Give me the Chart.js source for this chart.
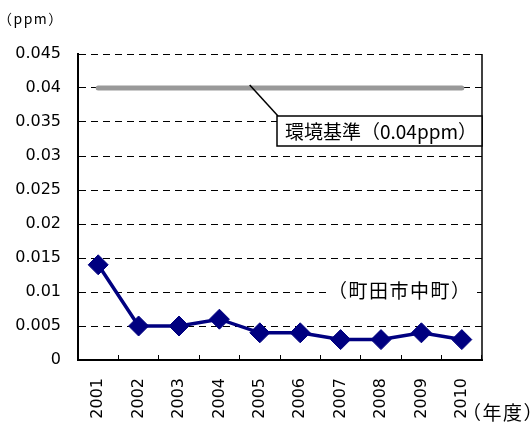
<!DOCTYPE html>
<html>
<head>
<meta charset="utf-8">
<script src="https://cdn.jsdelivr.net/npm/chart.js@4.4.8/dist/chart.umd.min.js"></script>
<style>
  html, body { margin: 0; padding: 0; background: #fff; }
  #wrap { width: 532px; height: 425px; }
</style>
</head>
<body>
<div id="wrap"><canvas id="no2Chart" width="532" height="425"></canvas></div>
<script>
const years = ["2001", "2002", "2003", "2004", "2005", "2006", "2007", "2008", "2009", "2010"];
const concentration = [0.014, 0.005, 0.005, 0.006, 0.004, 0.004, 0.003, 0.003, 0.004, 0.003];
const standardValue = 0.04;
const standardLine = years.map(() => standardValue);
const yTickLabels = ["0", "0.005", "0.01", "0.015", "0.02", "0.025", "0.03", "0.035", "0.04", "0.045"];

const numFont = "'DejaVu Sans', sans-serif";
const jpFont = "'Noto Sans CJK JP', sans-serif";

// 文字の横幅をそろえて描く（字間は少しだけ広げる）
function drawFitted(ctx, text, left, midY, width, font) {
  ctx.font = font;
  ctx.letterSpacing = "0px";
  const m = ctx.measureText(text);
  const ink = m.actualBoundingBoxLeft + m.actualBoundingBoxRight;
  const n = Array.from(text).length;
  let spacing = n > 1 ? (width - ink) / (n - 1) : 0;
  spacing = Math.min(1.5, Math.max(0, spacing));
  ctx.letterSpacing = spacing.toFixed(2) + "px";
  ctx.fillText(text, left + m.actualBoundingBoxLeft, midY);
  ctx.letterSpacing = "0px";
}

// 環境基準の吹き出しと単位などの文字
const notesPlugin = {
  id: "notes",
  afterDraw(chart) {
    const { ctx, chartArea, scales } = chart;
    const x = scales.x;
    const y = scales.y;
    ctx.save();

    // 枠の右辺
    ctx.strokeStyle = "#000";
    ctx.lineWidth = 1.5;
    ctx.beginPath();
    ctx.moveTo(chartArea.right, chartArea.top);
    ctx.lineTo(chartArea.right, chartArea.bottom);
    ctx.stroke();

    // 吹き出し
    const boxW = 205;
    const boxH = 30;
    const boxL = chartArea.right - boxW;
    const boxT = chartArea.top + 62;
    ctx.lineWidth = 1.5;
    ctx.beginPath();
    ctx.moveTo(x.getPixelForValue(3.75), y.getPixelForValue(standardValue) - 3);
    ctx.lineTo(boxL + 1, boxT);
    ctx.stroke();
    ctx.fillStyle = "#fff";
    ctx.fillRect(boxL, boxT, boxW, boxH);
    ctx.strokeRect(boxL, boxT, boxW, boxH);

    ctx.fillStyle = "#000";
    ctx.textBaseline = "middle";
    ctx.textAlign = "left";
    drawFitted(ctx, "環境基準（0.04ppm）", boxL + 8, boxT + boxH / 2 + 1, 177, "19px " + jpFont);

    // 測定局名（背景を白く抜く）
    ctx.fillStyle = "#fff";
    ctx.fillRect(331, 279, 146, 25);
    ctx.fillStyle = "#000";
    drawFitted(ctx, "（町田市中町）", 341, 291, 116, "19px " + jpFont);

    drawFitted(ctx, "（年度）", 475, 413, 55, "19px " + jpFont);
    drawFitted(ctx, "（ppm）", 7, 19, 51, "14px " + jpFont);
    ctx.restore();
  }
};

new Chart(document.getElementById("no2Chart"), {
  type: "line",
  data: {
    labels: years,
    datasets: [
      {
        data: standardLine,
        borderColor: "#999999",
        borderWidth: 5,
        pointRadius: 0,
        borderCapStyle: "round",
        order: 2
      },
      {
        data: concentration,
        borderColor: "#000080",
        borderWidth: 3.5,
        backgroundColor: "#000080",
        pointStyle: "rectRot",
        pointRadius: 10,
        pointBorderWidth: 1,
        pointBackgroundColor: "#000080",
        pointBorderColor: "#000080",
        tension: 0,
        order: 1
      }
    ]
  },
  options: {
    responsive: false,
    animation: false,
    layout: { padding: { top: 54, right: 50, left: 0, bottom: 0 } },
    plugins: {
      legend: { display: false },
      tooltip: { enabled: false }
    },
    scales: {
      x: {
        offset: true,
        afterFit(scale) { scale.height = 65; },
        grid: {
          offset: true,
          drawOnChartArea: false,
          tickLength: -5,
          color: "#000",
          lineWidth: 1
        },
        border: { display: true, color: "#000", width: 2 },
        ticks: {
          autoSkip: false,
          minRotation: 90,
          maxRotation: 90,
          padding: 23,
          color: "#000",
          font: { family: numFont, size: 16 }
        }
      },
      y: {
        min: 0,
        max: 0.045,
        afterFit(scale) { scale.width = 78; },
        ticks: {
          stepSize: 0.005,
          padding: 17,
          color: "#000",
          font: { family: numFont, size: 16 },
          callback: (v, i) => yTickLabels[i]
        },
        grid: {
          drawTicks: false,
          color: "#000",
          lineWidth: 1
        },
        border: { display: true, color: "#000", width: 2, dash: [7, 5] }
      }
    }
  },
  plugins: [notesPlugin]
});
</script>
</body>
</html>
